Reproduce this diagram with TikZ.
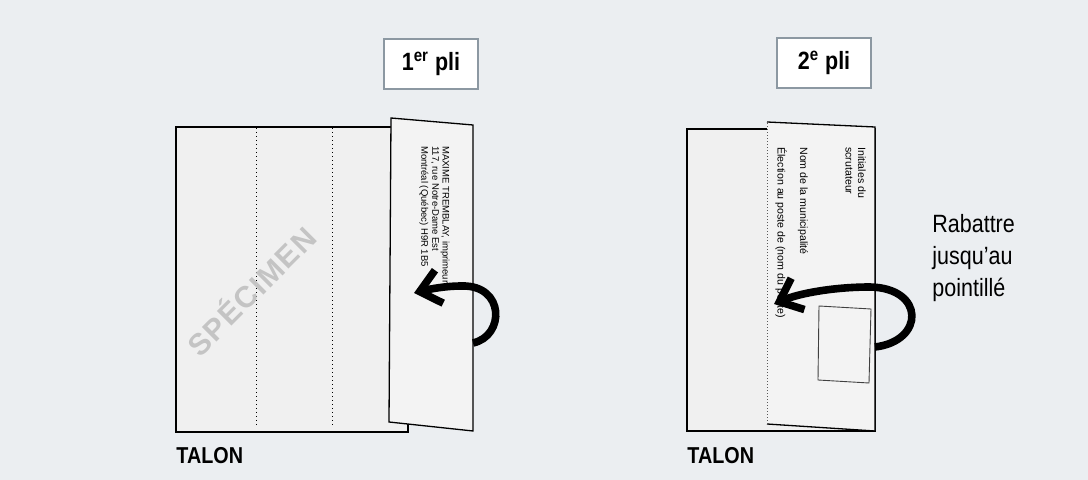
\documentclass[tikz,border=0pt]{standalone}
\usepackage{fontspec}
\setmainfont{Liberation Sans}
\newfontfamily\narrowfont{Liberation Sans}[FakeStretch=0.86]
\usetikzlibrary{arrows.meta}
\definecolor{fond}{RGB}{235,238,241}
\definecolor{papier}{RGB}{240,240,240}
\definecolor{rabat}{RGB}{243,243,243}
\definecolor{cadre}{RGB}{140,152,162}
\definecolor{filigrane}{RGB}{196,196,196}
\tikzset{
  titre/.style={draw=cadre, line width=1.25pt, fill=white, minimum width=47pt, minimum height=25pt,
    inner sep=0pt, font=\narrowfont\bfseries\fontsize{12.5}{14}\selectfont},
  talon/.style={anchor=north west, inner sep=0pt, font=\narrowfont\bfseries\fontsize{11.5}{13}\selectfont},
  petit/.style={rotate=-90, anchor=west, inner sep=0pt},
  fleche/.style={line width=3.8pt, -{Straight Barb[length=10pt,width=17pt]}},
  pointille/.style={line width=0.5pt, dash pattern=on 0.5pt off 1.5pt}
}
\begin{document}
\begin{tikzpicture}[x=0.5pt, y=-0.5pt]
  \fill[fond] (0,0) rectangle (1088,480);
  \useasboundingbox (0,0) rectangle (1088,480);

  % 1er pli
  \coordinate (A) at (176,127);
  \coordinate (B) at (408,432);
  \coordinate (P1) at (391,118);
  \coordinate (P2) at (473,125);
  \coordinate (P3) at (473,431);
  \coordinate (P4) at (389,422);

  \draw[line width=0.65pt, fill=papier] (A) rectangle (B);
  \draw[pointille] (256,128) -- (256,428);
  \draw[pointille] (332,128) -- (332,428);
  \node[rotate=45, text=filigrane, font=\bfseries\fontsize{15}{17}\selectfont\addfontfeature{LetterSpace=5}]
    (specimen) at (250,290) {SPÉCIMEN};

  \draw[line width=0.65pt, fill=rabat] (P1) -- (P2) -- (P3) -- (P4) -- cycle;
  \begin{scope}[font=\fontsize{4.75}{5.5}\selectfont]
    \node[petit] (adr1) at (445,146) {MAXIME TREMBLAY, imprimeur};
    \node[petit] (adr2) at (435,146) {117, rue Notre-Dame Est};
    \node[petit] (adr3) at (424,146) {Montréal (Québec) H9R 1B5};
  \end{scope}

  \draw[fleche] (P3 |- 0,343) .. controls (505,336) and (505,285) .. (462,286)
    .. controls (445,286) and (430,289) .. (414,293);

  \node[titre] (pli1) at (431,64) {1\textsuperscript{er} pli};
  \node[talon] (talon1) at (176,447) {TALON};

  % 2e pli
  \coordinate (C) at (687,129);
  \coordinate (D) at (875,431);
  \coordinate (Q1) at (767,122);
  \coordinate (Q2) at (875,127);
  \coordinate (Q3) at (875,431);
  \coordinate (Q4) at (767,424);
  \coordinate (R1) at (819,306);
  \coordinate (R2) at (871,309);
  \coordinate (R3) at (869,383);
  \coordinate (R4) at (818,380);

  \draw[line width=0.65pt, fill=papier] (C) rectangle (D);
  \fill[rabat] (Q1) -- (Q2) -- (Q3) -- (Q4) -- cycle;
  \draw[line width=0.65pt] (Q1) -- (Q2) -- (Q3) -- (Q4);
  \draw[pointille, draw=black!65, dash pattern=on 0.6pt off 0.9pt] (Q4) -- (Q1);
  \draw[line width=0.45pt, draw=black!75] (R1) -- (R2) -- (R3) -- (R4) -- cycle;
  \begin{scope}[font=\fontsize{5.3}{6}\selectfont]
    \node[petit] (init1) at (862,147) {Initiales du};
    \node[petit] (init2) at (849,147) {scrutateur};
    \node[petit] (nom) at (803,147) {Nom de la municipalité};
    \node[petit] (poste) at (781,147) {Élection au poste de (nom du poste)};
  \end{scope}

  \draw[fleche] (Q3 |- 0,347) .. controls (925,341) and (925,288) .. (870,287)
    .. controls (835,287) and (800,293) .. (774,304);

  \node[anchor=base west, inner sep=0pt, align=left, font=\narrowfont\fontsize{12.5}{16}\selectfont]
    (rabattre) at (932,297) {Rabattre\\jusqu’au\\pointillé};

  \node[titre] (pli2) at (824,63) {2\textsuperscript{e} pli};
  \node[talon] (talon2) at (687,447) {TALON};
\end{tikzpicture}
\end{document}
